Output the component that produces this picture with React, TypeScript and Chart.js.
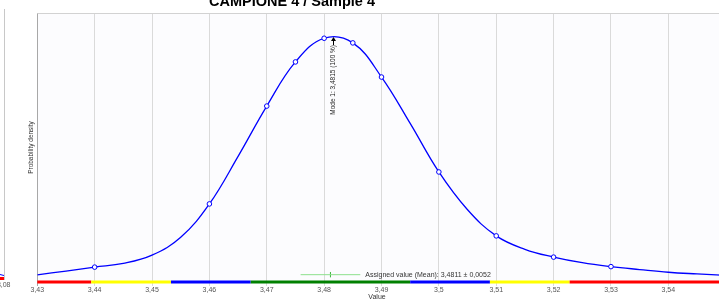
import React, { useEffect, useRef } from "react";
import { Chart, registerables } from "chart.js";

Chart.register(...registerables);

// ---------- data ----------
const TITLE = "CAMPIONE 4 / Sample 4";
const X_TITLE = "Value";
const Y_TITLE = "Probability density";
const X_MIN = 3.43;
const X_MAX = 3.55;
const X_STEP = 0.01;
const Y_MAX = 110.25;

// kernel density curve (relative density, mode = 100)
const curveX = [
  3.43, 3.435, 3.44, 3.445, 3.45, 3.455, 3.46, 3.465, 3.47, 3.475, 3.48,
  3.485, 3.49, 3.495, 3.5, 3.505, 3.51, 3.515, 3.52, 3.525, 3.53, 3.535, 3.54,
  3.545, 3.55,
];
const curveY = [
  2.9, 4.5, 6.1, 7.6, 11.0, 18.3, 32.0, 51.5, 72.1, 90.2, 99.9, 98.0, 84.0,
  65.0, 45.1, 29.6, 18.9, 13.4, 10.2, 7.9, 6.3, 5.1, 4.0, 3.3, 2.7,
];

// participant results drawn as open circles on the curve
const markerX = [3.44, 3.46, 3.47, 3.475, 3.48, 3.485, 3.49, 3.5, 3.51, 3.52, 3.53];
const markerY = [6.1, 32.0, 72.1, 90.2, 99.9, 98.0, 84.0, 45.1, 18.9, 10.2, 6.3];

// assigned value and its uncertainty
const MEAN = 3.4811;
const U = 0.0052;
const ASSIGNED_Y = 3.0;
const ASSIGNED_LABEL = "Assigned value (Mean): 3,4811 ± 0,0052";

// mode
const MODE = 3.4815;
const MODE_PCT = 100;
const MODE_LABEL = "Mode 1: 3,4815 (100 %)";

// coloured score bands along the axis
const bandEdges = [3.43, 3.4394, 3.4533, 3.4672, 3.495, 3.5089, 3.5228, 3.55];
const bandColors = ["#ff0000", "#ffff00", "#0000ff", "#008000", "#0000ff", "#ffff00", "#ff0000"];

const FONT = "'Liberation Sans', Arial, sans-serif";

const fmt = (v: number) => String(Number(v.toFixed(4))).replace(".", ",");

export default function App() {
  const ref = useRef<HTMLCanvasElement | null>(null);

  useEffect(() => {
    if (!ref.current) return;

    const deco = {
      id: "deco",
      beforeDraw(chart: any) {
        const { ctx, chartArea: a } = chart;
        ctx.save();
        ctx.fillStyle = "#ffffff";
        ctx.fillRect(0, 0, chart.width, chart.height);
        ctx.fillStyle = "#fcfcfe";
        ctx.fillRect(a.left, a.top, a.right - a.left, a.bottom - a.top);
        ctx.restore();
      },
      afterDraw(chart: any) {
        const { ctx, chartArea: a, scales } = chart;
        const xs = scales.x;
        const ys = scales.y;
        ctx.save();

        // top border
        ctx.strokeStyle = "#d2d2d2";
        ctx.lineWidth = 1;
        ctx.beginPath();
        ctx.moveTo(a.left, Math.round(a.top) + 0.5);
        ctx.lineTo(a.right, Math.round(a.top) + 0.5);
        ctx.stroke();

        // title (cut at top)
        ctx.fillStyle = "#000";
        ctx.font = `bold 14.5px ${FONT}`;
        ctx.textAlign = "center";
        ctx.textBaseline = "alphabetic";
        ctx.fillText(TITLE, 292, 6);

        // y title
        ctx.save();
        ctx.translate(31, (a.top + a.bottom) / 2);
        ctx.rotate(-Math.PI / 2);
        ctx.font = `6.5px ${FONT}`;
        ctx.fillStyle = "#333";
        ctx.textAlign = "center";
        ctx.textBaseline = "middle";
        ctx.fillText(Y_TITLE, 0, 0);
        ctx.restore();

        // mode arrow + label
        const mx = Math.round(xs.getPixelForValue(MODE)) + 0.5;
        const my = ys.getPixelForValue(MODE_PCT) - 1;
        ctx.strokeStyle = "#000";
        ctx.fillStyle = "#000";
        ctx.lineWidth = 1;
        ctx.beginPath();
        ctx.moveTo(mx, my + 2);
        ctx.lineTo(mx, my + 8);
        ctx.stroke();
        ctx.beginPath();
        ctx.moveTo(mx, my);
        ctx.lineTo(mx - 2.5, my + 4);
        ctx.lineTo(mx + 2.5, my + 4);
        ctx.closePath();
        ctx.fill();
        ctx.save();
        ctx.translate(mx, my + 8);
        ctx.rotate(-Math.PI / 2);
        ctx.font = `6.5px ${FONT}`;
        ctx.fillStyle = "#222";
        ctx.textAlign = "right";
        ctx.textBaseline = "middle";
        ctx.fillText(MODE_LABEL, 0, 0);
        ctx.restore();

        // assigned value label
        ctx.font = `7px ${FONT}`;
        ctx.fillStyle = "#333";
        ctx.textAlign = "left";
        ctx.textBaseline = "middle";
        ctx.fillText(ASSIGNED_LABEL, xs.getPixelForValue(MEAN + U) + 5, ys.getPixelForValue(ASSIGNED_Y));

        // x title
        ctx.font = `7px ${FONT}`;
        ctx.fillStyle = "#333";
        ctx.textAlign = "center";
        ctx.textBaseline = "middle";
        ctx.fillText(X_TITLE, 377, 297);

        // fragment of neighbouring chart at far left
        ctx.strokeStyle = "#c8c8c8";
        ctx.beginPath();
        ctx.moveTo(4.5, 9);
        ctx.lineTo(4.5, 280);
        ctx.stroke();
        ctx.strokeStyle = "#ff0000";
        ctx.lineWidth = 3;
        ctx.beginPath();
        ctx.moveTo(0, 278.5);
        ctx.lineTo(4, 278.5);
        ctx.stroke();
        ctx.strokeStyle = "#0000ff";
        ctx.lineWidth = 1;
        ctx.beginPath();
        ctx.moveTo(0, 274.5);
        ctx.lineTo(4, 275.5);
        ctx.stroke();
        ctx.font = `7px ${FONT}`;
        ctx.fillStyle = "#555";
        ctx.textAlign = "right";
        ctx.fillText("3,08", 10.5, 285.5);

        ctx.restore();
      },
    };

    const chart = new Chart(ref.current, {
      type: "line",
      data: {
        datasets: [
          {
            label: "bands",
            data: bandEdges.map((x) => ({ x, y: 0 })),
            borderWidth: 3,
            pointRadius: 0,
            clip: false as any,
            segment: {
              borderColor: (c: any) => bandColors[c.p0DataIndex],
            },
            borderColor: bandColors[0],
            order: 1,
          },
          {
            label: "assigned",
            data: [
              { x: MEAN - U, y: ASSIGNED_Y },
              { x: MEAN + U, y: ASSIGNED_Y },
            ],
            borderColor: "#8de08d",
            borderWidth: 1,
            pointRadius: 0,
            order: 3,
          },
          {
            label: "assigned tick",
            data: [
              { x: MEAN, y: ASSIGNED_Y - 1.1 },
              { x: MEAN, y: ASSIGNED_Y + 1.1 },
            ],
            borderColor: "#3cb43c",
            borderWidth: 1,
            pointRadius: 0,
            order: 3,
          },
          {
            label: "density",
            data: curveX.map((x, i) => ({ x, y: curveY[i] })),
            borderColor: "#0000ff",
            borderWidth: 1.3,
            pointRadius: 0,
            tension: 0.4,
            order: 2,
          },
          {
            label: "results",
            data: markerX.map((x, i) => ({ x, y: markerY[i] })),
            showLine: false,
            pointRadius: 2.3,
            pointBorderWidth: 1,
            pointBorderColor: "#0000ff",
            pointBackgroundColor: "#ffffff",
            order: 0,
          },
        ],
      },
      options: {
        animation: false,
        responsive: false,
        layout: { padding: { left: 37.3, top: 13, right: 34.3, bottom: 0 } },
        plugins: {
          legend: { display: false },
          tooltip: { enabled: false },
          title: { display: false },
        },
        scales: {
          x: {
            type: "linear",
            min: X_MIN,
            max: X_MAX,
            afterFit: (s: any) => {
              s.height = 21;
            },
            border: { display: false },
            grid: {
              color: (c: any) => (c.index === 0 ? "#a8a8a8" : "#dadada"),
              lineWidth: 1,
              tickLength: 4,
              drawTicks: true,
            },
            ticks: {
              stepSize: X_STEP,
              padding: 0,
              color: "#555",
              font: { size: 7, family: FONT },
              maxRotation: 0,
              autoSkip: false,
              callback: (v: any) => fmt(Number(v)),
            },
            title: { display: false },
          },
          y: {
            type: "linear",
            display: false,
            min: 0,
            max: Y_MAX,
          },
        },
      },
      plugins: [deco],
    } as any);

    return () => chart.destroy();
  }, []);

  return (
    <div
      style={{
        position: "fixed",
        left: 0,
        top: 0,
        width: 719,
        height: 303,
        overflow: "hidden",
        background: "#fff",
      }}
    >
      <canvas ref={ref} width={760} height={303} style={{ width: 760, height: 303, display: "block" }} />
    </div>
  );
}
